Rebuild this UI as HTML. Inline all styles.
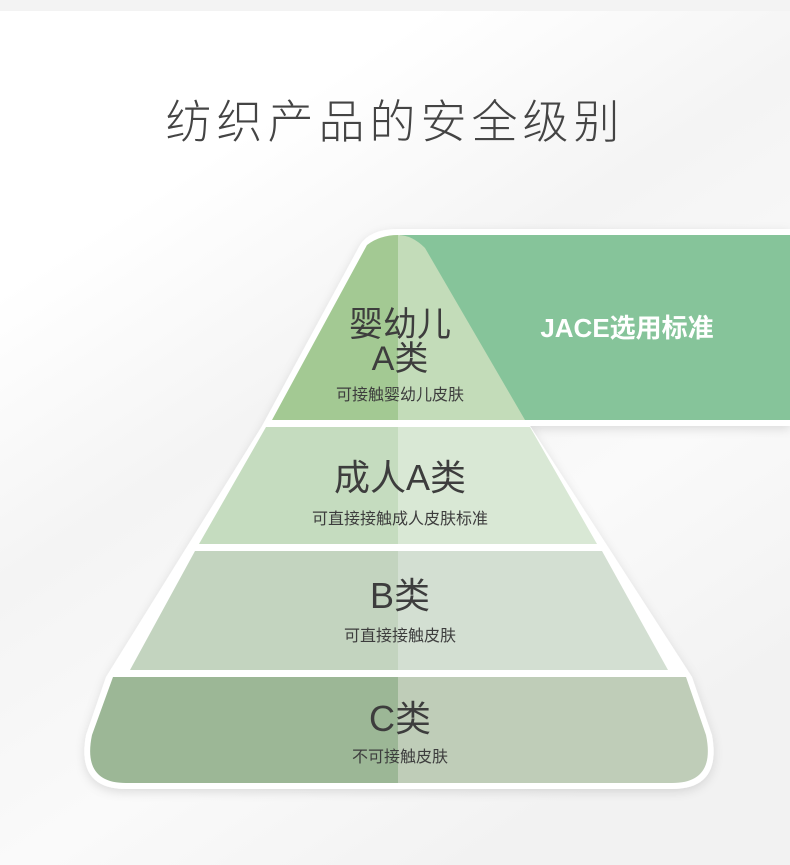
<!DOCTYPE html>
<html><head><meta charset="utf-8"><style>
body{margin:0;width:790px;height:865px;overflow:hidden;background:#fff;font-family:"Liberation Sans","Noto Sans CJK SC",sans-serif;}
</style></head><body>
<svg width="790" height="865" viewBox="0 0 790 865" xmlns="http://www.w3.org/2000/svg" style="display:block">
<defs>
<linearGradient id="bg" x1="0" y1="0" x2="0.6" y2="1">
<stop offset="0" stop-color="#ffffff"/><stop offset="0.25" stop-color="#ffffff"/><stop offset="0.5" stop-color="#f4f4f4"/><stop offset="0.75" stop-color="#fafafa"/><stop offset="1" stop-color="#f2f2f2"/>
</linearGradient>
<filter id="sh" x="-10%" y="-10%" width="120%" height="120%"><feDropShadow dx="0" dy="3" stdDeviation="5" flood-color="#000" flood-opacity="0.12"/></filter>
<clipPath id="L"><rect x="0" y="0" width="398" height="865"/></clipPath>
<clipPath id="R"><rect x="398" y="0" width="400" height="865"/></clipPath>
</defs>
<rect width="790" height="865" fill="url(#bg)"/>
<rect width="790" height="11" fill="#f3f3f3"/>
<text x="395" y="138" text-anchor="middle" font-size="46" fill="#444" letter-spacing="5" font-weight="300">纺织产品的安全级别</text>

<g filter="url(#sh)">
<path d="M380,229 L790,229 L790,426 L530,426 L692,677 L712,735 Q722,789 672,789 L126,789 Q76,789 86,735 L106,677 L262,426 L360,245 Q370,229 398,229 Z" fill="#fff"/>
</g>
<rect x="400" y="235" width="390" height="185" fill="#86c49a"/>
<path d="M272,420 L367,245 Q380,235 398,235 Q412,235 425,248 L525,420 Z" fill="#a3c993" clip-path="url(#L)"/>
<path d="M272,420 L367,245 Q380,235 398,235 Q412,235 425,248 L525,420 Z" fill="#c3dcb9" clip-path="url(#R)"/>
<path d="M266,427 L530,427 L597,544 L199,544 Z" fill="#c5dcbf" clip-path="url(#L)"/>
<path d="M266,427 L530,427 L597,544 L199,544 Z" fill="#d9e8d5" clip-path="url(#R)"/>
<path d="M195,551 L602,551 L668,670 L130,670 Z" fill="#c3d4bf" clip-path="url(#L)"/>
<path d="M195,551 L602,551 L668,670 L130,670 Z" fill="#d3dfd2" clip-path="url(#R)"/>
<path d="M113,677 L686,677 L706,735 Q716,783 672,783 L126,783 Q82,783 92,735 Z" fill="#9cb796" clip-path="url(#L)"/>
<path d="M113,677 L686,677 L706,735 Q716,783 672,783 L126,783 Q82,783 92,735 Z" fill="#bfcdb8" clip-path="url(#R)"/>

<g fill="#3d3d3d" text-anchor="middle">
<text x="400" y="336" font-size="34">婴幼儿</text>
<text x="400" y="370" font-size="34">A类</text>
<text x="400" y="400" font-size="16">可接触婴幼儿皮肤</text>
<text x="400" y="490" font-size="36">成人A类</text>
<text x="400" y="524" font-size="16">可直接接触成人皮肤标准</text>
<text x="400" y="608" font-size="36">B类</text>
<text x="400" y="641" font-size="16">可直接接触皮肤</text>
<text x="400" y="731" font-size="36">C类</text>
<text x="400" y="762" font-size="16">不可接触皮肤</text>
</g>
<text x="627" y="337" text-anchor="middle" font-size="26" font-weight="bold" fill="#fff">JACE选用标准</text>
</svg>
</body></html>
